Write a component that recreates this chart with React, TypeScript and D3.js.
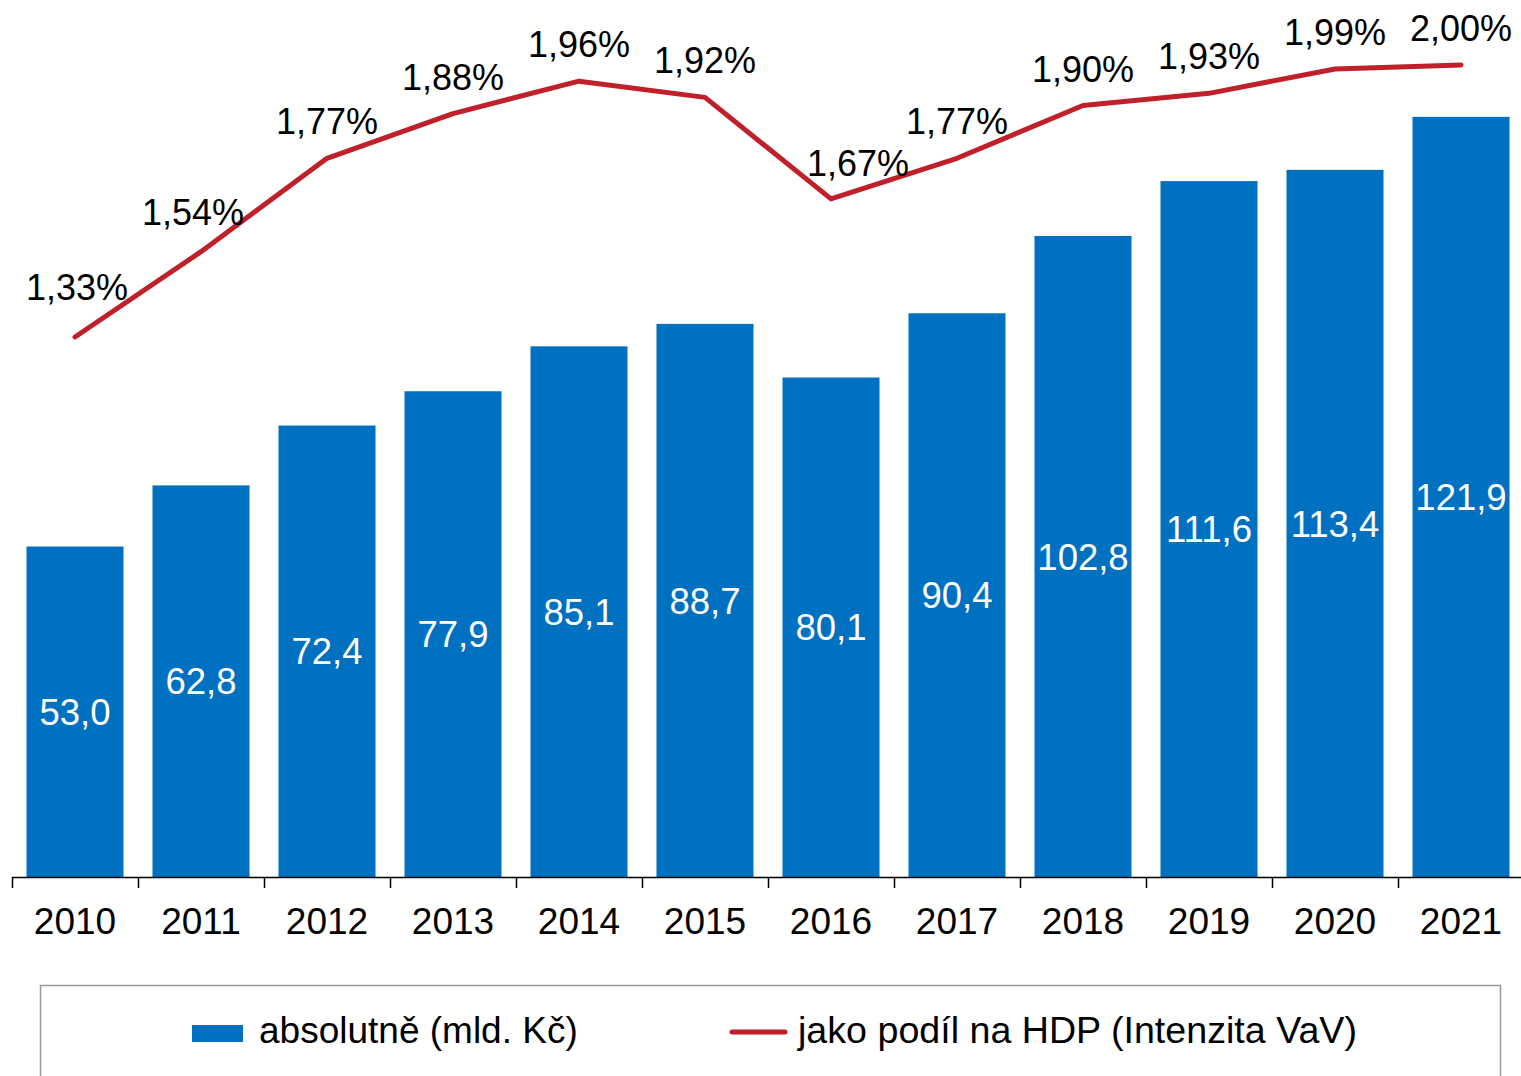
import React from "react";
import * as d3 from "d3";

const years = ["2010", "2011", "2012", "2013", "2014", "2015", "2016", "2017", "2018", "2019", "2020", "2021"];
const absoluteValues = [53.0, 62.8, 72.4, 77.9, 85.1, 88.7, 80.1, 90.4, 102.8, 111.6, 113.4, 121.9];
const gdpShare = [1.33, 1.54, 1.77, 1.88, 1.96, 1.92, 1.67, 1.77, 1.90, 1.93, 1.99, 2.0];
const legendLabels = ["absolutně (mld. Kč)", "jako podíl na HDP (Intenzita VaV)"];

// label nudges (layout only)
const lineLabelDx = [2, -8, 0, 0, 0, 0, 27, 0, 0, 0, 0, 0];
const lineLabelDy = [-37, -27, -24, -24, -24, -24, -23, -24, -24, -24, -24, -24];

const W = 1521;
const H = 1076;
const left = 12;
const right = 1524;
const bottom = 877;
const top = 4;
const BLUE = "#0070C0";
const RED = "#C0202A";
const FONT = "'Liberation Sans', Arial, sans-serif";

const fmt = (v: number, d: number) => v.toFixed(d).replace(".", ",");

export default function App() {
  const x = d3.scaleBand<string>().domain(years).range([left, right]).paddingInner(0.23).paddingOuter(0.115);
  const step = x.step();
  const y = d3.scaleLinear().domain([0, 140]).range([bottom, top]);
  const y2 = d3.scaleLinear().domain([0, 2.15]).range([bottom, top]);
  const cx = (yr: string) => (x(yr) as number) + x.bandwidth() / 2;

  const line = d3
    .line<number>()
    .x((_, i) => cx(years[i]))
    .y((d) => y2(d));

  const ticks = d3.range(years.length + 1).map((i) => left + i * step);

  return (
    <svg width={W} height={H} style={{ position: "absolute", left: 0, top: 0 }} fontFamily={FONT}>
      <rect x={0} y={0} width={W} height={H} fill="#fff" />
      {years.map((yr, i) => (
        <rect
          key={yr}
          x={x(yr)}
          y={y(absoluteValues[i])}
          width={x.bandwidth()}
          height={bottom - y(absoluteValues[i])}
          fill={BLUE}
        />
      ))}
      {years.map((yr, i) => (
        <text
          key={"bl" + yr}
          x={cx(yr)}
          y={(y(absoluteValues[i]) + bottom) / 2}
          dy="0.36em"
          textAnchor="middle"
          fontSize={36.5}
          fill="#fff"
        >
          {fmt(absoluteValues[i], 1)}
        </text>
      ))}
      <line x1={left} x2={right} y1={bottom + 0.5} y2={bottom + 0.5} stroke="#000" strokeWidth={1.5} />
      {ticks.map((t, i) => (
        <line key={"t" + i} x1={t + 0.5} x2={t + 0.5} y1={bottom} y2={bottom + 11} stroke="#000" strokeWidth={1.5} />
      ))}
      {years.map((yr) => (
        <text key={"xl" + yr} x={cx(yr)} y={934} textAnchor="middle" fontSize={37} fill="#000">
          {yr}
        </text>
      ))}
      <path d={line(gdpShare) || ""} fill="none" stroke={RED} strokeWidth={5} strokeLinecap="round" strokeLinejoin="round" />
      {years.map((yr, i) => (
        <text
          key={"ll" + yr}
          x={cx(yr) + lineLabelDx[i]}
          y={y2(gdpShare[i]) + lineLabelDy[i]}
          textAnchor="middle"
          fontSize={36}
          fill="#000"
        >
          {fmt(gdpShare[i], 2) + "%"}
        </text>
      ))}
      <rect x={40.5} y={985.5} width={1460} height={140} fill="none" stroke="#999" strokeWidth={1.5} />
      <rect x={192} y={1025} width={51} height={17} fill={BLUE} />
      <text x={259} y={1043} fontSize={37} fill="#000">
        {legendLabels[0]}
      </text>
      <line x1={732} x2={785} y1={1032} y2={1032} stroke={RED} strokeWidth={5} strokeLinecap="round" />
      <text x={798} y={1043} fontSize={37} fill="#000" textLength={559} lengthAdjust="spacingAndGlyphs">
        {legendLabels[1]}
      </text>
    </svg>
  );
}
